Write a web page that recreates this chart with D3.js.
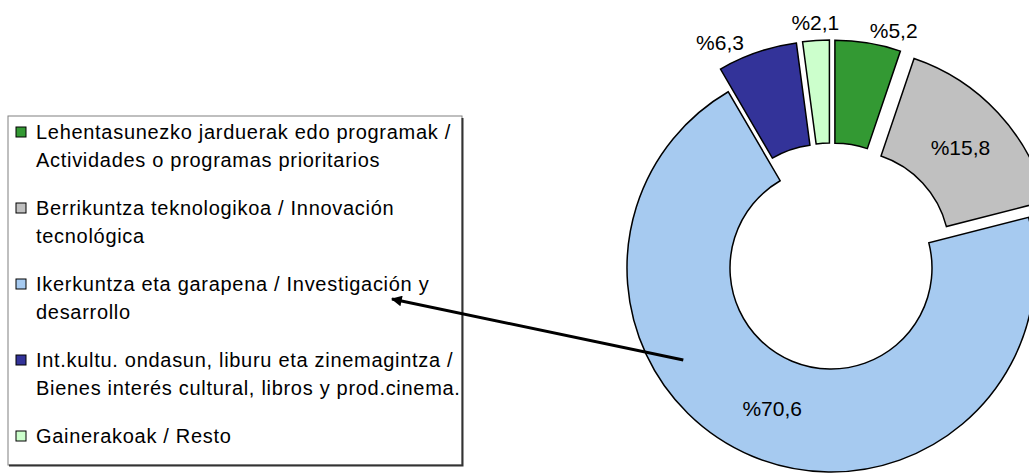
<!DOCTYPE html>
<html lang="en">
<head>
    <meta charset="utf-8">
    <title>Doughnut</title>
    <script src="https://cdn.jsdelivr.net/npm/d3@7/dist/d3.min.js"></script>
    <style>
        body { margin: 0; background: #fff; }
        svg text { font-family: "Liberation Sans", Arial, sans-serif; fill: #000; }
    </style>
</head>
<body>
<svg id="chart" width="1029" height="473"></svg>
<script>

// values, in order round the doughnut starting at 12 o'clock
var values = [5.2, 15.8, 70.6, 6.3, 2.1];
var value_labels = ['%5,2', '%15,8', '%70,6', '%6,3', '%2,1'];
var colors = ['#339933', '#c0c0c0', '#a6caf0', '#333399', '#ccffcc'];
var legend_lines = [
    ['Lehentasunezko jarduerak edo programak /', 'Actividades o programas prioritarios'],
    ['Berrikuntza teknologikoa /  Innovación', 'tecnológica'],
    ['Ikerkuntza eta garapena / Investigación y', 'desarrollo'],
    ['Int.kultu. ondasun, liburu eta zinemagintza /', 'Bienes interés cultural, libros y prod.cinema.'],
    ['Gainerakoak / Resto']
];
var highlight = 2;   // slice that stays in place and gets the arrow

var svg = d3.select('#chart');

var cx = 831, cy = 268;
var outer = 204, inner = 101;
var explode = 24;

var pie = d3.pie().sort(null).value(function(d) { return d; });
var arcs = pie(values);
var arc = d3.arc().innerRadius(inner).outerRadius(outer);

var g = svg.append('g').attr('transform', 'translate(' + cx + ' ' + cy + ')');

function offset(d, i) {
    if (i == highlight) return [0, 0];
    var a = (d.startAngle + d.endAngle) / 2;
    return [explode * Math.sin(a), -explode * Math.cos(a)];
}

g.selectAll('path.slice')
    .data(arcs)
    .enter().append('path')
    .attr('class', 'slice')
    .attr('d', arc)
    .attr('fill', function(d, i) { return colors[i]; })
    .attr('stroke', '#000')
    .attr('stroke-width', 1.5)
    .attr('transform', function(d, i) {
        var o = offset(d, i);
        return 'translate(' + o[0] + ' ' + o[1] + ')';
    });

// labels: big slices inside, small ones outside
g.selectAll('text.val')
    .data(arcs)
    .enter().append('text')
    .attr('class', 'val')
    .style('font-size', '21px')
    .each(function(d, i) {
        var o = offset(d, i);
        var a = (d.startAngle + d.endAngle) / 2;
        var t = d3.select(this).text(value_labels[i]);
        if (d.endAngle - d.startAngle > 0.6) {
            var c = arc.centroid(d);
            t.attr('x', c[0] + o[0]).attr('y', c[1] + o[1])
             .attr('dy', '0.35em').attr('text-anchor', 'middle');
        } else {
            var r = outer + explode + 10;
            var x = r * Math.sin(a), y = -r * Math.cos(a);
            var s = Math.sin(a);
            if (s > 0.1) {
                t.attr('x', x).attr('y', y - 3).attr('dy', '0.35em').attr('text-anchor', 'start');
            } else if (s < -0.1) {
                t.attr('x', x - 10).attr('y', y).attr('dy', '0.35em').attr('text-anchor', 'end');
            } else {
                t.attr('x', x).attr('y', y - 1).attr('text-anchor', 'middle');
            }
        }
    });

// legend box
var lx = 8, ly = 116, lw = 454, lh = 349;
svg.append('rect')
    .attr('x', lx).attr('y', ly)
    .attr('width', lw).attr('height', lh)
    .attr('fill', '#fff')
    .attr('stroke', '#808080')
    .attr('stroke-width', 1);
svg.append('path')
    .attr('d', 'M' + (lx + lw + 0.5) + ',' + (ly + 2) + 'V' + (ly + lh + 0.5) + 'H' + (lx + 1))
    .attr('fill', 'none')
    .attr('stroke', '#333')
    .attr('stroke-width', 2);

var entry_gap = 76, line_gap = 28;
var legend = svg.append('g');
legend_lines.forEach(function(lines, i) {
    var y0 = 132 + i * entry_gap;
    legend.append('rect')
        .attr('x', 16).attr('y', y0 - 5)
        .attr('width', 10).attr('height', 10)
        .attr('fill', colors[i])
        .attr('stroke', '#000')
        .attr('stroke-width', 1);
    lines.forEach(function(line, j) {
        legend.append('text')
            .attr('x', 36)
            .attr('y', y0 + j * line_gap)
            .attr('dy', '0.35em')
            .style('font-size', '20px')
            .style('letter-spacing', '0.7px')
            .text(line);
    });
});

// arrow from the big slice to its legend entry
svg.append('defs').append('marker')
    .attr('id', 'head')
    .attr('viewBox', '0 0 10 10')
    .attr('refX', 9).attr('refY', 5)
    .attr('markerWidth', 5).attr('markerHeight', 3.6)
    .attr('orient', 'auto')
    .append('path')
    .attr('d', 'M0,0L10,5L0,10z')
    .attr('fill', '#000');

var ha = (arcs[highlight].startAngle + arcs[highlight].endAngle) / 2 + 0.618;
var hr = 174;
svg.append('line')
    .attr('x1', cx + hr * Math.sin(ha))
    .attr('y1', cy - hr * Math.cos(ha))
    .attr('x2', 392)
    .attr('y2', 299)
    .attr('stroke', '#000')
    .attr('stroke-width', 3)
    .attr('marker-end', 'url(#head)');

</script>
</body>
</html>
